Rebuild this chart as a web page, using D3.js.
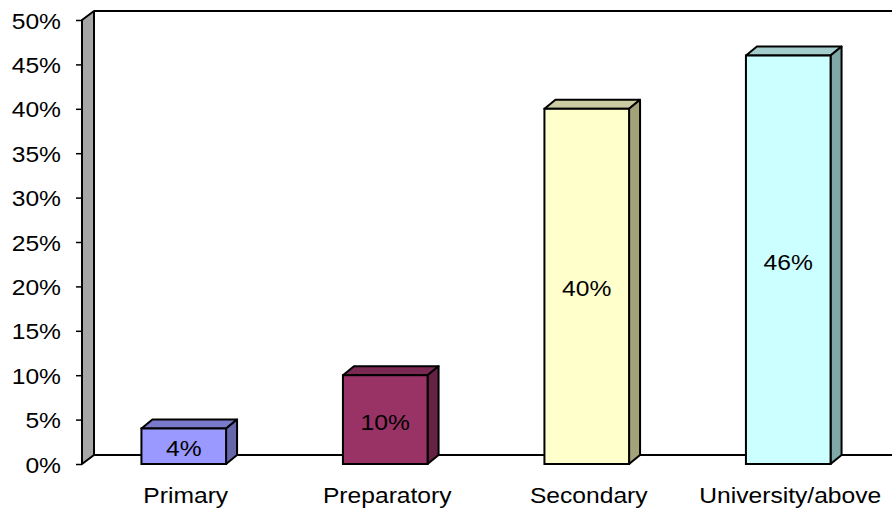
<!DOCTYPE html>
<html>
<head>
<meta charset="utf-8">
<script src="https://cdn.jsdelivr.net/npm/d3@7"></script>
<style>
html,body{margin:0;padding:0;background:#fff;}
svg{display:block;}
text{font-family:"Liberation Sans",Arial,sans-serif;}
</style>
</head>
<body>
<svg id="chart" width="892" height="509"></svg>
<script>
const categories = ["Primary", "Preparatory", "Secondary", "University/above"];
const values = [0.04, 0.10, 0.40, 0.46];
const valueLabels = ["4%", "10%", "40%", "46%"];
const tickValues = [0, 0.05, 0.10, 0.15, 0.20, 0.25, 0.30, 0.35, 0.40, 0.45, 0.50];
const frontColors = ["#9999FF", "#993366", "#FFFFCC", "#CCFFFF"];
const topColors = ["#7A7ACC", "#7A2952", "#CCCCA3", "#A3CCCC"];
const sideColors = ["#6666AA", "#662244", "#A3A37A", "#80A8A8"];

const svg = d3.select("#chart");
const W = 892;
const FS = 22, SX = 1.12;
const wallX = 82, dx = 12, dy = -9;
const bdx = 11, bdy = -9;

const y = d3.scaleLinear().domain([0, 0.5]).range([464, 20]);
const x = d3.scaleBand().domain(categories).range([83, 889]).paddingInner(0.58).paddingOuter(0.29);

// back wall top line & floor back line
svg.append("line").attr("x1", wallX + dx).attr("x2", W).attr("y1", y(0.5) + dy).attr("y2", y(0.5) + dy)
  .attr("stroke", "#000").attr("stroke-width", 2);
svg.append("line").attr("x1", wallX + dx).attr("x2", W).attr("y1", y(0) + dy).attr("y2", y(0) + dy)
  .attr("stroke", "#000").attr("stroke-width", 2);

// left side wall
svg.append("polygon")
  .attr("points", [[wallX, y(0.5)], [wallX + dx, y(0.5) + dy], [wallX + dx, y(0) + dy], [wallX, y(0)]].map(p => p.join(",")).join(" "))
  .attr("fill", "#A6A6A6").attr("stroke", "#000").attr("stroke-width", 2).attr("stroke-linejoin", "round");

// y axis ticks and labels
const axis = d3.axisLeft(y).tickValues(tickValues).tickFormat(d3.format(".0%")).tickSize(6).tickPadding(15);
const ag = svg.append("g").attr("transform", `translate(${wallX},0)`).call(axis);
ag.select(".domain").remove();
ag.selectAll(".tick line").attr("stroke", "#000").attr("stroke-width", 1.5);
ag.selectAll(".tick text")
  .attr("font-size", FS).attr("fill", "#000")
  .attr("font-family", "'Liberation Sans', Arial, sans-serif")
  .attr("x", -21 / SX).attr("dy", null).attr("y", 8)
  .attr("transform", `scale(${SX},1)`);

// bars
const bars = svg.append("g").selectAll("g").data(categories).join("g");
bars.each(function (c, i) {
  const g = d3.select(this);
  const x0 = x(c), x1 = x(c) + x.bandwidth();
  const yt = y(values[i]), yb = y(0);
  // top face
  g.append("polygon")
    .attr("points", [[x0, yt], [x0 + bdx, yt + bdy], [x1 + bdx, yt + bdy], [x1, yt]].map(p => p.join(",")).join(" "))
    .attr("fill", topColors[i]).attr("stroke", "#000").attr("stroke-width", 2).attr("stroke-linejoin", "round");
  // side face
  g.append("polygon")
    .attr("points", [[x1, yt], [x1 + bdx, yt + bdy], [x1 + bdx, yb + bdy], [x1, yb]].map(p => p.join(",")).join(" "))
    .attr("fill", sideColors[i]).attr("stroke", "#000").attr("stroke-width", 2).attr("stroke-linejoin", "round");
  // front face
  g.append("rect").attr("x", x0).attr("y", yt).attr("width", x.bandwidth()).attr("height", yb - yt)
    .attr("fill", frontColors[i]).attr("stroke", "#000").attr("stroke-width", 2);
  g.append("text")
    .attr("transform", `translate(${(x0 + x1) / 2},${(yt + yb) / 2 + 10}) scale(${SX},1)`)
    .attr("text-anchor", "middle")
    .attr("font-size", FS).attr("fill", "#000").text(valueLabels[i]);
});

// category labels
svg.append("g").selectAll("text").data(categories).join("text")
  .attr("transform", d => `translate(${x(d) + x.bandwidth() / 2 + 2},503) scale(${SX},1)`)
  .attr("text-anchor", "middle")
  .attr("font-size", FS).attr("fill", "#000")
  .text(d => d);
</script>
</body>
</html>
